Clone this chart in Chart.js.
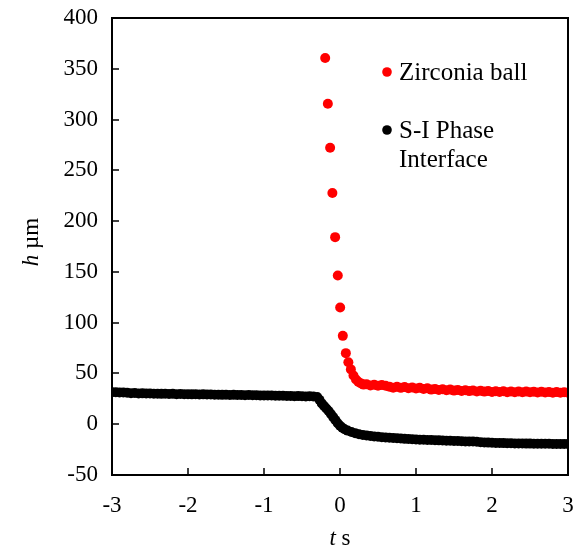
<!DOCTYPE html>
<html>
<head>
<meta charset="utf-8">
<script src="https://cdn.jsdelivr.net/npm/chart.js@4.4.1/dist/chart.umd.min.js"></script>
<style>
html,body{margin:0;padding:0;background:#fff;}
canvas{display:block;}
</style>
</head>
<body>
<canvas id="c" width="582" height="550"></canvas>
<script>
// ---- data ----
const seriesNames = ["Zirconia ball", "S-I Phase|Interface"];
const xTickValues = [-3, -2, -1, 0, 1, 2, 3];
const yTickValues = [-50, 0, 50, 100, 150, 200, 250, 300, 350, 400];

// Zirconia ball (red)
const tBall = [-0.195, -0.16, -0.13, -0.10, -0.064, -0.029, 0.002, 0.037, 0.077,
  0.11, 0.143, 0.177, 0.21, 0.243, 0.277, 0.31, 0.35, 0.40, 0.45, 0.50, 0.55, 0.60,
  0.65, 0.70, 0.75, 0.80, 0.85, 0.90, 0.95, 1.00, 1.05, 1.10, 1.15, 1.20, 1.25, 1.30,
  1.35, 1.40, 1.45, 1.50, 1.55, 1.60, 1.65, 1.70, 1.75, 1.80, 1.85, 1.90, 1.95, 2.00,
  2.05, 2.10, 2.15, 2.20, 2.25, 2.30, 2.35, 2.40, 2.45, 2.50, 2.55, 2.60, 2.65, 2.70,
  2.75, 2.80, 2.85, 2.90, 2.95, 3.00];
const hBall = [360.6, 315.6, 272.2, 227.6, 184.2, 146.4, 114.9, 87.0, 70.0,
  61.0, 54.0, 48.0, 44.0, 41.5, 40.2, 39.0, 39.4, 38.2, 38.9, 37.8, 38.6, 37.9,
  37.0, 36.0, 36.9, 35.8, 36.6, 35.5, 36.2, 35.1, 35.8, 34.6, 35.3, 34.1, 34.8, 33.7,
  34.4, 33.4, 34.1, 33.1, 33.8, 32.8, 33.5, 32.6, 33.2, 32.3, 32.9, 32.1, 32.7, 31.8,
  32.5, 31.7, 32.4, 31.6, 32.3, 31.5, 32.2, 31.4, 32.1, 31.4, 32.0, 31.3, 31.9, 31.2,
  31.8, 31.1, 31.7, 31.0, 31.6, 31.1];

// S-I Phase Interface (black)
const tInterface = [-3.00, -2.95, -2.90, -2.85, -2.80, -2.75, -2.70, -2.65, -2.60, -2.55,
  -2.50, -2.45, -2.40, -2.35, -2.30, -2.25, -2.20, -2.15, -2.10, -2.05,
  -2.00, -1.95, -1.90, -1.85, -1.80, -1.75, -1.70, -1.65, -1.60, -1.55,
  -1.50, -1.45, -1.40, -1.35, -1.30, -1.25, -1.20, -1.15, -1.10, -1.05,
  -1.00, -0.95, -0.90, -0.85, -0.80, -0.75, -0.70, -0.65, -0.60, -0.55,
  -0.50, -0.45, -0.40, -0.35, -0.30, -0.27, -0.24, -0.21, -0.18, -0.15,
  -0.12, -0.09, -0.06, -0.03, 0.00, 0.03, 0.06, 0.10, 0.15, 0.20,
  0.25, 0.30, 0.35, 0.40, 0.45, 0.50, 0.55, 0.60, 0.65, 0.70,
  0.75, 0.80, 0.85, 0.90, 0.95, 1.00, 1.05, 1.10, 1.15, 1.20,
  1.25, 1.30, 1.35, 1.40, 1.45, 1.50, 1.55, 1.60, 1.65, 1.70,
  1.75, 1.80, 1.85, 1.90, 1.95, 2.00, 2.05, 2.10, 2.15, 2.20,
  2.25, 2.30, 2.35, 2.40, 2.45, 2.50, 2.55, 2.60, 2.65, 2.70,
  2.75, 2.80, 2.85, 2.90, 2.95, 3.00];
const hInterface = [31.5, 31.6, 31.2, 31.3, 31.0, 30.6, 30.8, 30.3, 30.4, 30.2,
  30.3, 30.0, 30.1, 29.9, 30.0, 29.8, 29.9, 29.6, 29.7, 29.5,
  29.6, 29.4, 29.5, 29.3, 29.4, 29.2, 29.2, 29.0, 29.1, 28.9,
  29.0, 28.8, 28.9, 28.7, 28.8, 28.6, 28.7, 28.5, 28.6, 28.4,
  28.4, 28.2, 28.3, 28.1, 28.0, 28.1, 27.8, 27.9, 27.6, 27.7,
  27.5, 27.4, 27.5, 27.3, 26.8, 24.0, 20.5, 18.0, 15.5, 13.0,
  10.0, 7.0, 4.0, 1.0, -1.5, -3.5, -5.0, -6.3, -7.6, -8.8,
  -9.8, -10.5, -11.0, -11.6, -12.0, -12.3, -12.8, -13.0, -13.4, -13.6,
  -13.9, -14.1, -14.4, -14.5, -14.8, -15.0, -15.2, -15.3, -15.5, -15.6,
  -15.8, -15.9, -16.1, -16.2, -16.3, -16.5, -16.6, -16.7, -16.9, -17.0,
  -17.1, -17.2, -17.8, -18.0, -18.1, -18.3, -18.4, -18.5, -18.6, -18.7,
  -18.8, -18.9, -19.0, -19.0, -19.1, -19.1, -19.2, -19.2, -19.3, -19.3,
  -19.3, -19.4, -19.4, -19.4, -19.5, -19.5];

// ---- chart ----
const SERIF = '"Liberation Serif", "Times New Roman", serif';
const ballPts = tBall.map((t, i) => ({x: t, y: hBall[i]}));
const ifPts = tInterface.map((t, i) => ({x: t, y: hInterface[i]}));

const framePlugin = {
  id: 'frame',
  afterDraw(chart) {
    const ctx = chart.ctx;
    const a = chart.chartArea;
    const xs = chart.scales.x, ys = chart.scales.y;
    ctx.save();
    ctx.strokeStyle = '#000';
    ctx.lineWidth = 2;
    ctx.strokeRect(a.left, a.top, a.right - a.left, a.bottom - a.top);
    ctx.lineWidth = 1.5;
    ctx.beginPath();
    xTickValues.forEach(v => {
      const px = Math.round(xs.getPixelForValue(v));
      ctx.moveTo(px, a.bottom); ctx.lineTo(px, a.bottom - 7);
    });
    yTickValues.forEach(v => {
      const py = Math.round(ys.getPixelForValue(v));
      ctx.moveTo(a.left, py); ctx.lineTo(a.left + 7, py);
    });
    ctx.stroke();

    // legend
    const colors = ['#ff0000', '#000000'];
    const dotY = [72, 130];
    const lines = [[seriesNames[0]], seriesNames[1].split('|')];
    ctx.font = '25px ' + SERIF;
    ctx.textBaseline = 'alphabetic';
    ctx.textAlign = 'left';
    lines.forEach((ls, i) => {
      ctx.fillStyle = colors[i];
      ctx.beginPath(); ctx.arc(387, dotY[i], 4.8, 0, Math.PI * 2); ctx.fill();
      ctx.fillStyle = '#000';
      ls.forEach((txt, j) => ctx.fillText(txt, 399, dotY[i] + 8 + j * 29));
    });

    // axis titles
    ctx.fillStyle = '#000';
    const drawMixed = (parts, cx, cy) => {
      let w = 0;
      parts.forEach(p => { ctx.font = p[1] + ' 23px ' + SERIF; w += ctx.measureText(p[0]).width; });
      let x = cx - w / 2;
      parts.forEach(p => { ctx.font = p[1] + ' 23px ' + SERIF; ctx.fillText(p[0], x, cy); x += ctx.measureText(p[0]).width; });
    };
    drawMixed([['t', 'italic'], [' s', 'normal']], (a.left + a.right) / 2, 545);
    ctx.save();
    ctx.translate(38, 242);
    ctx.rotate(-Math.PI / 2);
    drawMixed([['h', 'italic'], [' \u00b5m', 'normal']], 0, 0);
    ctx.restore();
    ctx.restore();
  }
};

const noOverhang = s => { s.paddingTop = 0; s.paddingBottom = 0; s.paddingLeft = 0; s.paddingRight = 0; };

new Chart(document.getElementById('c'), {
  type: 'scatter',
  data: {
    datasets: [
      {label: seriesNames[0], data: ballPts, backgroundColor: '#ff0000', borderColor: '#ff0000',
       pointRadius: 5, pointBorderWidth: 0, pointHoverRadius: 5},
      {label: seriesNames[1], data: ifPts, backgroundColor: '#000000', borderColor: '#000000',
       pointRadius: 5, pointBorderWidth: 0, pointHoverRadius: 5}
    ]
  },
  options: {
    responsive: false,
    animation: false,
    events: [],
    layout: {padding: {left: 0, right: 14, top: 18, bottom: 0}},
    plugins: {legend: {display: false}, tooltip: {enabled: false}},
    scales: {
      x: {
        type: 'linear', min: -3, max: 3,
        afterBuildTicks: s => { s.ticks = xTickValues.map(v => ({value: v})); },
        afterFit: s => { s.height = 75; noOverhang(s); },
        grid: {display: false, drawTicks: false},
        border: {display: false},
        ticks: {color: '#000', font: {family: SERIF, size: 23}, padding: 17, maxRotation: 0}
      },
      y: {
        type: 'linear', min: -50, max: 400,
        afterBuildTicks: s => { s.ticks = yTickValues.map(v => ({value: v})); },
        afterFit: s => { s.width = 112; noOverhang(s); },
        grid: {display: false, drawTicks: false},
        border: {display: false},
        ticks: {color: '#000', font: {family: SERIF, size: 23}, padding: 14}
      }
    }
  },
  plugins: [framePlugin]
});
</script>
</body>
</html>
